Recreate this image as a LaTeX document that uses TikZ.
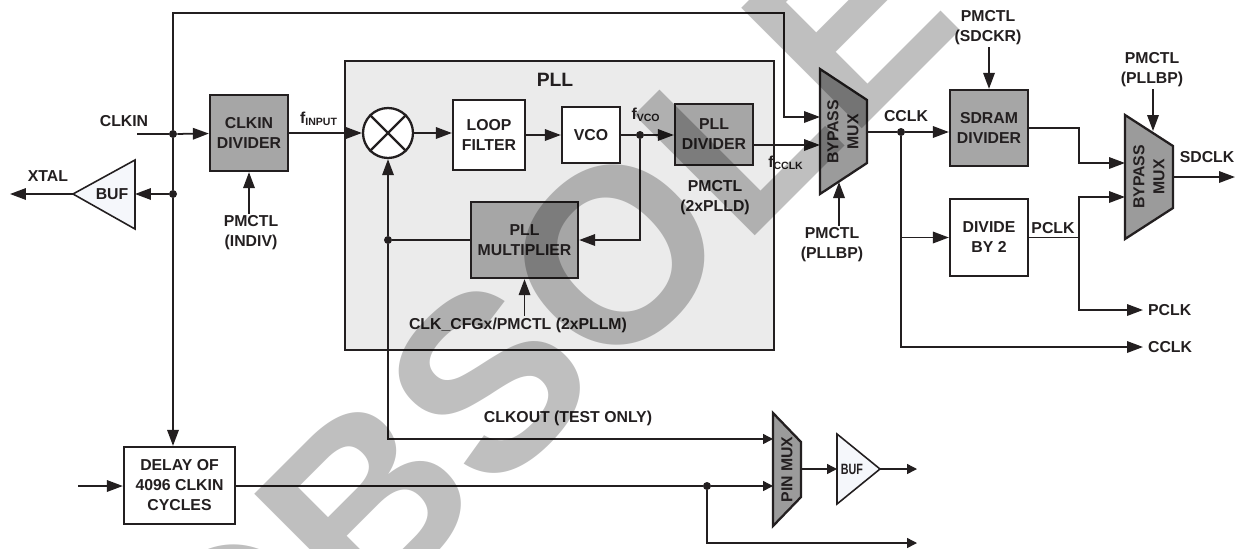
\documentclass[tikz,border=0pt]{standalone}
\usepackage{fontspec}
\setmainfont{Liberation Sans}
\usepackage{xcolor}
\usepackage{tikz}
\usetikzlibrary{positioning,arrows.meta,shapes.geometric,calc}
\definecolor{ink}{HTML}{231F20}
\definecolor{blockgray}{HTML}{A6A6A6}
\definecolor{muxgray}{HTML}{9B9B9B}
\definecolor{pllback}{HTML}{EBEBEB}
\definecolor{bufwhite}{HTML}{F5F7FB}
\tikzset{
block/.style={
draw=ink,
line width=1.3pt,
minimum width=1.56cm,
minimum height=1.52cm,
align=center,
inner sep=1pt
},
grayblock/.style={block,fill=blockgray},
whiteblock/.style={block,fill=white},
muxshape/.style={
draw=ink,
line width=1.3pt,
fill=muxgray,
line join=miter
},
bufshape/.style={
draw=ink,
line width=0.9pt,
fill=bufwhite
},
dot/.style={circle,fill=ink,inner sep=0pt,minimum size=1.6mm},
lbl/.style={align=center,inner sep=1pt},
wire/.style={draw=ink,line width=1pt},
arrow/.style={
-{Triangle[length=3.2mm,width=2.3mm]},
draw=ink,
line width=1pt
},
thinarrow/.style={
-{Triangle[length=2mm,width=2mm]},
draw=ink,
line width=0.8pt
}
}
\begin{document}
\begin{tikzpicture}[x=0.02cm,y=-0.02cm,font=\fontsize{9}{11.4}\selectfont\bfseries,color=ink]
\useasboundingbox (0,0) rectangle (1236,548);

\node[draw=ink,line width=1.1pt,fill=pllback,minimum width=8.58cm,minimum height=5.78cm](pll) at (559.5,205.5){};
\node[font=\fontsize{11}{13}\selectfont\bfseries](plltitle) at (555,80){PLL};

\node[grayblock](clkdiv) at (249,133){CLKIN\\DIVIDER};
\node[circle,draw=ink,line width=1.3pt,fill=white,minimum size=1cm](mix) at (388,133){};
\draw[line width=1.3pt](mix.north west)--(mix.south east) (mix.north east)--(mix.south west);
\node[whiteblock,minimum width=1.44cm,minimum height=1.4cm](filter) at (489,135){LOOP\\FILTER};
\node[whiteblock,minimum width=1.16cm,minimum height=1.12cm](vco) at (591,135){VCO};
\node[grayblock,minimum height=1.22cm](plldiv) at (714,134.5){PLL\\DIVIDER};
\node[grayblock,minimum width=2.14cm](pllmul) at (524.5,240){PLL\\MULTIPLIER};

\draw[muxshape](820,69)--(867,100)--(867,163)--(820,194)--cycle;
\node[lbl,rotate=90](bypass1) at (843,132){BYPASS\\MUX};
\draw[muxshape](1125,115)--(1173,146)--(1173,208)--(1125,239)--cycle;
\node[lbl,rotate=90](bypass2) at (1149,177){BYPASS\\MUX};
\draw[muxshape](773,413)--(801,442)--(801,497)--(773,526)--cycle;
\node[lbl,rotate=90](pinmux) at (787,469.5){PIN MUX};

\node[grayblock](sdram) at (989,128){SDRAM\\DIVIDER};
\node[whiteblock,minimum height=1.54cm](div2) at (989,237.5){DIVIDE\\BY 2};
\node[whiteblock,minimum width=2.22cm,minimum height=1.54cm](delay) at (179.5,485.5){DELAY OF\\4096 CLKIN\\CYCLES};

\draw[bufshape](73,194)--(135,160)--(135,229)--cycle;
\node[lbl](buf1) at (112,194){BUF};
\draw[bufshape](880,469)--(837,434)--(837,504)--cycle;
\node[lbl,xscale=0.72,font=\fontsize{8.5}{10}\selectfont\bfseries](buf2) at (852,469){BUF};

\node[dot](jclk) at (173,134){};
\node[dot](jxtal) at (173,194){};
\node[dot](jvco) at (640,135){};
\node[dot](jfb) at (388,240){};
\node[dot](jcclk) at (901,132){};
\node[dot](jdelay) at (707,486){};

\coordinate(bypass1in) at (820,132);
\coordinate(bypass1out) at (867,132);
\coordinate(bypass2in) at (1125,177);
\coordinate(bypass2out) at (1173,177);
\coordinate(pinmuxin) at (773,469);
\coordinate(pinmuxout) at (801,469);
\coordinate(buf1in) at (135,194);
\coordinate(buf1out) at (73,194);
\coordinate(buf2in) at (837,469);
\coordinate(buf2out) at (880,469);
\coordinate(bp1tip) at (839,182);
\coordinate(bp2tip) at (1153,131);

\coordinate(clkin) at (137,134);
\coordinate(xtal) at (10,194);
\coordinate(toprun) at (784,13);
\coordinate(bypassin) at (784,117);
\coordinate(clkoutbend) at (388,439);
\coordinate(pllout) at ($(plldiv.east)+(0,10.5)$);
\coordinate(sdramturn) at (1079,163);
\coordinate(pclkturn) at (1079,197);
\coordinate(pclkbend) at (1079,310);
\coordinate(pclkend) at (1143,310);
\coordinate(cclkend) at (1143,347);
\coordinate(sdclkend) at (1235,177);
\coordinate(delayin) at (78,486);
\coordinate(pinout) at (917,469);
\coordinate(delayend) at (917,543);

\node[lbl](clkinlbl) at (124,121){CLKIN};
\node[lbl](xtallbl) at (48,176){XTAL};
\node[lbl](indiv) at (251,233){PMCTL\\(INDIV)};
\node[lbl](finput) at (319,119){f\textsubscript{INPUT}};
\node[lbl](fvco) at (646,115){f\textsubscript{VCO}};
\node[lbl](plld) at (715,198){PMCTL\\(2xPLLD)};
\node[lbl](pllm) at (518,325){CLK\_CFGx/PMCTL (2xPLLM)};
\node[lbl](fcclk) at (786,163){f\textsubscript{CCLK}};
\node[lbl](pllbp1) at (832,245){PMCTL\\(PLLBP)};
\node[lbl](cclklbl) at (906,116){CCLK};
\node[lbl](sdckr) at (988,28){PMCTL\\(SDCKR)};
\node[lbl](pclklbl) at (1053,228){PCLK};
\node[lbl](pllbp2) at (1152,70){PMCTL\\(PLLBP)};
\node[lbl](sdclklbl) at (1207,157){SDCLK};
\node[lbl,anchor=west](pclkout) at (1146,310){PCLK};
\node[lbl,anchor=west](cclkout) at (1146,347){CCLK};
\node[lbl](clkoutlbl) at (568,418){CLKOUT (TEST ONLY)};

\draw[wire](clkin)--(jclk);
\draw[arrow](jclk)--(clkdiv);
\draw[arrow](jclk)|-(toprun)--(bypassin)--(bypassin-|bypass1in);
\draw[wire](jclk)--(jxtal);
\draw[arrow](jxtal)--(jxtal|-delay.north);
\draw[arrow](jxtal)--(buf1in);
\draw[arrow](buf1out)--(xtal);
\draw[arrow](indiv.north-|clkdiv.south)--(clkdiv.south);
\draw[arrow](clkdiv)--(mix);
\draw[arrow](mix.east)--(mix.east-|filter.west);
\draw[arrow](filter)--(vco);
\draw[wire](vco)--(jvco);
\draw[arrow](jvco)--(jvco-|plldiv.west);
\draw[arrow](jvco)|-(pllmul.east);
\draw[wire](pllmul.west)--(jfb);
\draw[arrow](jfb)--(mix.south);
\draw[thinarrow](jfb)--(clkoutbend)--(clkoutbend-|pinmuxin);
\draw[arrow](pllm.north-|pllmul.south)--(pllmul.south);
\draw[arrow](pllout)--(pllout-|bypass1in);
\draw[arrow](pllbp1.north-|bp1tip)--(bp1tip);
\draw[wire](bypass1out)--(jcclk);
\draw[arrow](jcclk)--(jcclk-|sdram.west);
\draw[arrow](sdckr.south-|sdram.north)--(sdram.north);
\draw[arrow](sdram.east)-|(sdramturn)--(sdramturn-|bypass2in);
\draw[arrow](jcclk)|-(cclkend);
\draw[arrow](jcclk|-div2.west)--(div2.west);
\draw[arrow](div2.east)-|(pclkturn)--(pclkturn-|bypass2in);
\draw[arrow](div2.east)-|(pclkbend)--(pclkend);
\draw[arrow](pllbp2.south-|bp2tip)--(bp2tip);
\draw[arrow](bypass2out)--(sdclkend);

\draw[arrow](delayin)--(delayin-|delay.west);
\draw[wire](delay.east|-jdelay)--(jdelay);
\draw[thinarrow](jdelay)--(jdelay-|pinmuxin);
\draw[thinarrow](jdelay)|-(delayend);
\draw[thinarrow](pinmuxout)--(buf2in);
\draw[thinarrow](buf2out)--(pinout);

\node[rotate=45,text=black,text opacity=0.25,inner sep=0pt,font=\fontsize{141}{141}\selectfont\bfseries](stamp) at (649,221){OBSOLETE};
\end{tikzpicture}
\end{document}
